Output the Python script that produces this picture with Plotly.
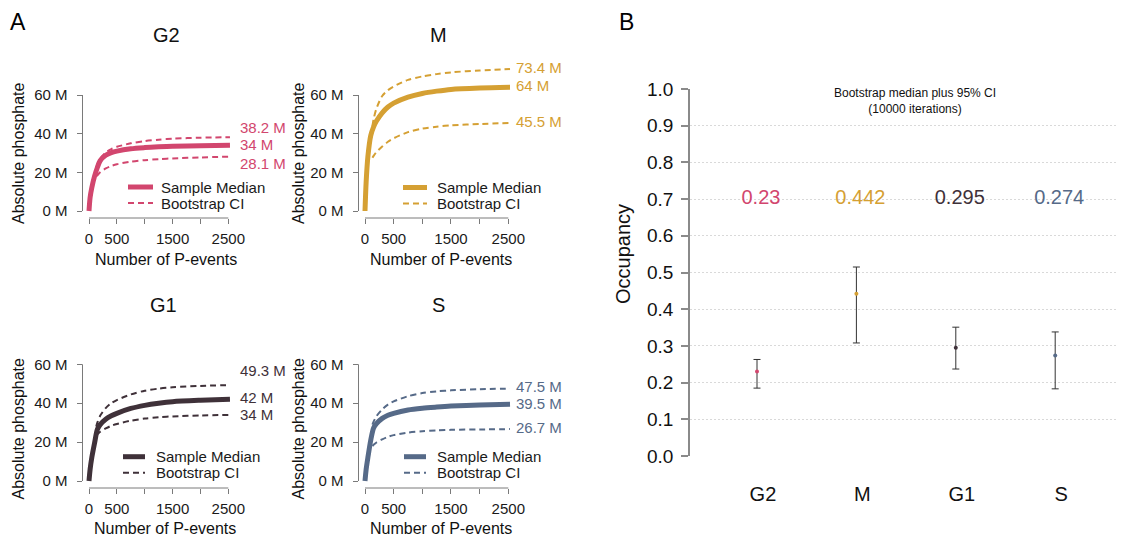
import plotly.graph_objects as go

W, H = 1131, 540
FONT = "Liberation Sans, Arial, Helvetica, sans-serif"

# ---------------- data ----------------
phases = ["G2", "M", "G1", "S"]
colors = {"G2": "#d2466e", "M": "#d5a033", "G1": "#3f3139", "S": "#566a88"}

# number of P-events sampled (x) and absolute phosphate in millions (y)
events_median = [0, 20, 50, 100, 150, 200, 300, 400, 500, 750, 1000, 1250, 1500, 2000, 2530]
events_ci = [130, 150, 200, 300, 400, 500, 750, 1000, 1250, 1500, 2000, 2530]

median_G2 = [0, 7, 12, 18, 22.5, 26, 28.8, 30.2, 31, 32.2, 32.8, 33.2, 33.5, 33.8, 34]
median_M = [0, 15, 28, 39, 43.5, 46.5, 50.8, 53.8, 55.8, 58.9, 60.8, 62, 62.9, 63.6, 64]
median_G1 = [0, 6, 12, 19.5, 26.5, 29, 31.8, 33.5, 34.8, 37.3, 38.9, 40, 40.8, 41.5, 42]
median_S = [0, 6, 12, 21, 27.3, 29.5, 32.2, 33.8, 34.8, 36.5, 37.4, 38, 38.5, 39.1, 39.5]

upper_G2 = [22.5, 24, 27, 30.2, 32, 33.2, 35, 36.2, 36.9, 37.4, 37.9, 38.2]
upper_M = [44, 47.5, 53, 59.5, 62.5, 64.4, 67.8, 69.6, 70.8, 71.7, 72.7, 73.4]
upper_G1 = [28, 30, 33.5, 37.5, 40, 41.6, 44.5, 46.4, 47.5, 48.2, 48.9, 49.3]
upper_S = [29, 30.5, 33.3, 36.8, 39.3, 40.9, 43.6, 45.2, 46.1, 46.6, 47.2, 47.5]

lower_G2 = [18, 18.5, 20, 22, 23.3, 24.2, 25.5, 26.3, 26.8, 27.2, 27.7, 28.1]
lower_M = [27.5, 28.5, 30.5, 33.3, 35.8, 37.6, 40.8, 42.6, 43.6, 44.3, 45, 45.5]
lower_G1 = [23.5, 24, 25.3, 27, 28.4, 29.3, 31, 32.1, 32.8, 33.2, 33.7, 34]
lower_S = [18, 18.6, 19.8, 21.4, 22.7, 23.6, 24.9, 25.6, 26, 26.3, 26.5, 26.7]

medians = {"G2": median_G2, "M": median_M, "G1": median_G1, "S": median_S}
uppers = {"G2": upper_G2, "M": upper_M, "G1": upper_G1, "S": upper_S}
lowers = {"G2": lower_G2, "M": lower_M, "G1": lower_G1, "S": lower_S}

x_ticks = [0, 500, 1000, 1500, 2000, 2500]
x_ticktext = ["0", "500", "", "1500", "", "2500"]
y_ticks = [0, 20, 40, 60]
y_ticktext = ["0 M", "20 M", "40 M", "60 M"]

# occupancy: bootstrap median with 95% CI
occ_median = [0.23, 0.442, 0.295, 0.274]
occ_low = [0.185, 0.308, 0.237, 0.183]
occ_high = [0.263, 0.515, 0.351, 0.338]

# ---------------- layout geometry (pixels) ----------------
# x0/x2500: pixel of 0 and 2500 events; y0/y60: pixel of 0 M and 60 M
geom = {
    "G2": dict(x0=89, x2500=228.3, y0=211, y60=95, title=(166, 35), xt=(166, 260), yt=(18, 153),
               leg=(128, 153, 159, 187, 203), lab_dx=8, lab_dy=(9.5, 1, -6.6)),
    "M": dict(x0=365, x2500=508.3, y0=211, y60=95, title=(438, 35), xt=(441, 260), yt=(298, 153),
              leg=(403, 427, 435, 187.5, 203.5), lab_dx=4, lab_dy=(1.4, 1.3, 1.3)),
    "G1": dict(x0=89, x2500=228.3, y0=481, y60=364.3, title=(164, 305), xt=(165, 528), yt=(18, 428.5),
               leg=(123, 145, 154, 456.7, 472.7), lab_dx=8, lab_dy=(15, 1.7, 0)),
    "S": dict(x0=365, x2500=508.3, y0=481, y60=364.3, title=(439, 305), xt=(441, 528), yt=(298, 428.5),
              leg=(404, 426, 435, 456.7, 472.7), lab_dx=4, lab_dy=(2, 1, 1.4)),
}


def px(x):
    return x / W


def py(y):
    return 1 - y / H


def label(x, y, text, size, color="#111", angle=0, anchor="center"):
    return dict(x=px(x), y=py(y), xref="paper", yref="paper", text=text, showarrow=False,
                xanchor=anchor, yanchor="middle", textangle=angle,
                font=dict(size=size, color=color))


fig = go.Figure()
layout = dict(
    width=W, height=H, margin=dict(l=0, r=0, t=0, b=0, autoexpand=False),
    paper_bgcolor="white", plot_bgcolor="white", showlegend=False,
    font=dict(family=FONT, color="#1a1a1a"),
)
annotations = []
shapes = []
AXIS_GRAY = "#7a7a7a"

for i, ph in enumerate(phases):
    g = geom[ph]
    n = "" if i == 0 else str(i + 1)
    xa, ya = "x" + n, "y" + n
    sx = (g["x2500"] - g["x0"]) / 2500.0
    sy = (g["y0"] - g["y60"]) / 60.0
    left, right = g["x0"] - 6.5, g["x2500"] + 24
    bottom, top = g["y0"] + 7, g["y0"] - 152
    layout["xaxis" + n] = dict(
        domain=[px(left), px(right)], anchor=ya, automargin=False,
        range=[(left - g["x0"]) / sx, (right - g["x0"]) / sx],
        showgrid=False, zeroline=False, showline=False,
        ticks="outside", ticklen=5, tickcolor=AXIS_GRAY, tickwidth=1,
        tickvals=x_ticks, ticktext=x_ticktext, tickfont=dict(size=15, color="#1a1a1a"),
        ticklabelstandoff=2, fixedrange=True,
    )
    layout["yaxis" + n] = dict(
        domain=[py(bottom), py(top)], anchor=xa, automargin=False,
        range=[-(bottom - g["y0"]) / sy, (g["y0"] - top) / sy],
        showgrid=False, zeroline=False, showline=False,
        ticks="outside", ticklen=5, tickcolor=AXIS_GRAY, tickwidth=1,
        tickvals=y_ticks, ticktext=y_ticktext, tickfont=dict(size=15, color="#1a1a1a"),
        ticklabelstandoff=6, fixedrange=True,
    )
    # axis lines spanning only the tick range
    shapes.append(dict(type="line", xref=xa, yref=ya + " domain", x0=0, x1=2500, y0=0, y1=0,
                       line=dict(color=AXIS_GRAY, width=1)))
    shapes.append(dict(type="line", xref=xa + " domain", yref=ya, x0=0, x1=0, y0=0, y1=60,
                       line=dict(color=AXIS_GRAY, width=1)))

    c = colors[ph]
    fig.add_trace(go.Scatter(x=events_ci, y=uppers[ph], mode="lines", xaxis=xa, yaxis=ya,
                             line=dict(color=c, width=2, dash="6px,4px", shape="spline", smoothing=0.8),
                             hoverinfo="skip"))
    fig.add_trace(go.Scatter(x=events_ci, y=lowers[ph], mode="lines", xaxis=xa, yaxis=ya,
                             line=dict(color=c, width=2, dash="6px,4px", shape="spline", smoothing=0.8),
                             hoverinfo="skip"))
    fig.add_trace(go.Scatter(x=events_median, y=medians[ph], mode="lines", xaxis=xa, yaxis=ya,
                             line=dict(color=c, width=5, shape="spline", smoothing=0.8),
                             hoverinfo="skip"))

    # end-of-line value labels
    for series, ev, dy in ((uppers[ph], events_ci, g["lab_dy"][0]),
                           (medians[ph], events_median, g["lab_dy"][1]),
                           (lowers[ph], events_ci, g["lab_dy"][2])):
        annotations.append(dict(x=ev[-1], y=series[-1], xref=xa, yref=ya, text=f"{series[-1]:g} M",
                                showarrow=False, xanchor="left", yanchor="middle",
                                xshift=g["lab_dx"], yshift=dy, font=dict(size=15, color=c)))

    # panel title and axis titles
    annotations.append(label(*g["title"], ph, 20))
    annotations.append(label(*g["xt"], "Number of P-events", 16))
    annotations.append(label(*g["yt"], "Absolute phosphate", 16, angle=-90))

    # key for median / CI lines
    lx0, lx1, tx, ry1, ry2 = g["leg"]
    shapes.append(dict(type="line", xref="paper", yref="paper", x0=px(lx0), x1=px(lx1),
                       y0=py(ry1), y1=py(ry1), line=dict(color=c, width=5)))
    shapes.append(dict(type="line", xref="paper", yref="paper", x0=px(lx0), x1=px(lx1),
                       y0=py(ry2), y1=py(ry2), line=dict(color=c, width=2, dash="6px,4px")))
    annotations.append(label(tx, ry1, "Sample Median", 15, "#1a1a1a", anchor="left"))
    annotations.append(label(tx, ry2, "Bootstrap CI", 15, "#1a1a1a", anchor="left"))

# ---------------- panel B: occupancy ----------------
pos = [1, 2, 3, 4]
b_left, b_right, b_top, b_bottom = 690, 1118, 89, 456
unit = 99.4
layout["xaxis5"] = dict(
    domain=[px(b_left), px(b_right)], anchor="y5", automargin=False,
    range=[1 - (757 - b_left) / unit, 1 + (b_right - 757) / unit],
    showgrid=False, zeroline=False, showline=False, ticks="",
    tickvals=[p + 0.06 for p in pos], ticktext=phases,
    tickfont=dict(size=20, color="#111"), ticklabelstandoff=24, fixedrange=True,
)
layout["yaxis5"] = dict(
    domain=[py(b_bottom), py(b_top)], anchor="x5", automargin=False, range=[0, 1],
    showgrid=True, gridcolor="#d9d9d9", griddash="2px,2px", gridwidth=1,
    zeroline=False, showline=True, linecolor="#8a8a8a", linewidth=1.5,
    ticks="outside", ticklen=7, tickcolor="#8a8a8a", tickwidth=1.5,
    tickvals=[k / 10 for k in range(11)], tickformat=".1f",
    tickfont=dict(size=19, color="#111"), ticklabelstandoff=4, fixedrange=True,
)

for k, ph in enumerate(phases):
    fig.add_trace(go.Scatter(
        x=[pos[k]], y=[occ_median[k]], mode="markers", xaxis="x5", yaxis="y5",
        marker=dict(color=colors[ph], size=4),
        error_y=dict(type="data", symmetric=False,
                     array=[occ_high[k] - occ_median[k]], arrayminus=[occ_median[k] - occ_low[k]],
                     color="#333333", thickness=1, width=3.5),
        hoverinfo="skip"))

fig.add_trace(go.Scatter(
    x=[p + 0.04 for p in pos], y=[0.7] * 4, mode="text", xaxis="x5", yaxis="y5",
    text=[f"{v:g}" for v in occ_median], textposition="middle center",
    textfont=dict(size=20, color=[colors[ph] for ph in phases]), hoverinfo="skip"))

annotations.append(label(914.5, 100.5, "Bootstrap median plus 95% CI<br>(10000 iterations)", 12))
annotations.append(label(623, 254, "Occupancy", 20, angle=-90))

# panel letters
annotations.append(label(18, 22, "A", 23, "#000"))
annotations.append(label(626, 22, "B", 23, "#000"))

layout["annotations"] = annotations
layout["shapes"] = shapes
fig.update_layout(**layout)
fig.write_html("out.html")
